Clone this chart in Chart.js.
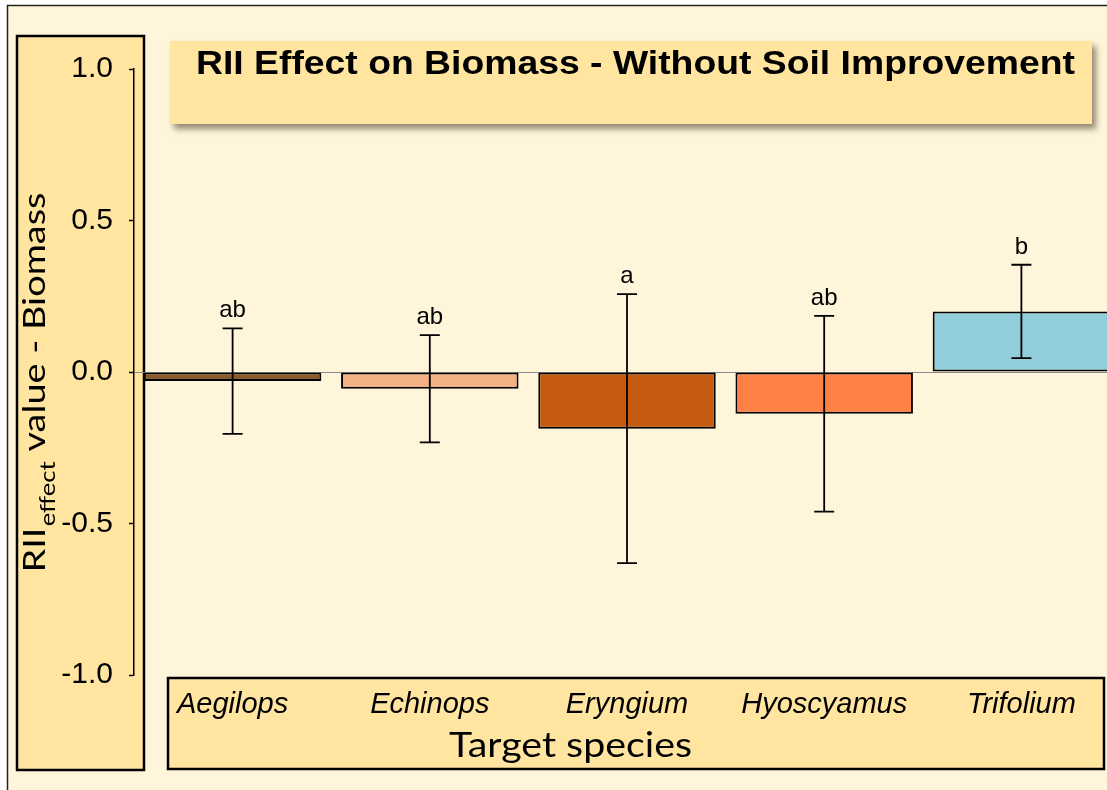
<!DOCTYPE html>
<html><head><meta charset="utf-8">
<script src="https://cdn.jsdelivr.net/npm/chart.js@4.4.0/dist/chart.umd.min.js"></script>
<style>html,body{margin:0;padding:0;overflow:hidden;background:#fff;} canvas{display:block;}</style>
</head><body>
<canvas id="c" width="1120" height="790"></canvas>
<script>
const categories = ['Aegilops', 'Echinops', 'Eryngium', 'Hyoscyamus', 'Trifolium'];
const meanRII = [-0.03, -0.055, -0.187, -0.138, 0.2];
const errRII = [0.174, 0.177, 0.444, 0.323, 0.154];
const sigLetters = ['ab', 'ab', 'a', 'ab', 'b'];
const barColors = ['#8B5A2B', '#F4B183', '#C55A11', '#FF8145', '#92CDDC'];
const yTickValues = [-1.0, -0.5, 0.0, 0.5, 1.0];
const chartTitle = 'RII Effect on Biomass - Without Soil Improvement';
const xTitle = 'Target species';
const yTitleMain = 'RII';
const yTitleSub = 'effect';
const yTitleRest = ' value - Biomass';

const BOX = '#FFE5A0';
const CREAM = '#FFF5DA';

// draw text horizontally fitted to a target width, centred at (cx, cy)
function fitText(ctx, txt, cx, cy, width) {
  const w = ctx.measureText(txt).width;
  ctx.save();
  ctx.translate(cx, cy);
  ctx.scale(width / w, 1);
  ctx.textAlign = 'center';
  ctx.fillText(txt, 0, 0);
  ctx.restore();
}

const decor = {
  id: 'decor',
  beforeDraw(chart) {
    const ctx = chart.ctx;
    ctx.save();
    ctx.fillStyle = '#fff';
    ctx.fillRect(0, 0, chart.width, chart.height);
    ctx.fillStyle = CREAM;
    ctx.fillRect(7, 5, chart.width, chart.height);
    ctx.strokeStyle = '#222';
    ctx.lineWidth = 1.5;
    ctx.beginPath();
    ctx.moveTo(7.5, chart.height + 5);
    ctx.lineTo(7.5, 5.5);
    ctx.lineTo(chart.width + 5, 5.5);
    ctx.stroke();

    // title box with shadow
    ctx.save();
    ctx.shadowColor = 'rgba(60,50,30,0.55)';
    ctx.shadowBlur = 6;
    ctx.shadowOffsetX = 4;
    ctx.shadowOffsetY = 5;
    ctx.fillStyle = BOX;
    ctx.fillRect(170, 41, 922, 83);
    ctx.restore();

    // y label box
    ctx.fillStyle = BOX;
    ctx.fillRect(17, 36, 127, 734);
    ctx.lineWidth = 2.5;
    ctx.strokeStyle = '#000';
    ctx.strokeRect(17, 36, 127, 734);

    // x label box
    ctx.fillRect(168, 678, 936, 91);
    ctx.strokeRect(168, 678, 936, 91);

    // title
    ctx.fillStyle = '#000';
    ctx.textBaseline = 'middle';
    ctx.font = 'bold 34px "Liberation Sans", Arial, sans-serif';
    fitText(ctx, chartTitle, 635.5, 65, 879);

    // x title
    ctx.font = '35px Lato, "Open Sans", sans-serif';
    fitText(ctx, xTitle, 570.5, 746, 243);

    // y title rotated with subscript, fitted to reference length
    ctx.save();
    ctx.translate(45, 382.5);
    ctx.rotate(-Math.PI / 2);
    ctx.textBaseline = 'alphabetic';
    ctx.textAlign = 'left';
    const fMain = '31px Lato, "Open Sans", sans-serif';
    const fSub = '21px Lato, "Open Sans", sans-serif';
    ctx.font = fMain;
    const w1 = ctx.measureText(yTitleMain).width;
    const w3 = ctx.measureText(yTitleRest).width;
    ctx.font = fSub;
    const w2 = ctx.measureText(yTitleSub).width;
    const total = w1 + w2 + w3 + 1;
    ctx.scale(380 / total, 1);
    let x0 = -total / 2;
    ctx.font = fMain;
    ctx.fillText(yTitleMain, x0, 0);
    ctx.font = fSub;
    ctx.fillText(yTitleSub, x0 + w1 + 1, 10);
    ctx.font = fMain;
    ctx.fillText(yTitleRest, x0 + w1 + w2 + 1, 0);
    ctx.restore();

    ctx.restore();
  },
  afterDatasetsDraw(chart) {
    const ctx = chart.ctx;
    const xs = chart.scales.x, ys = chart.scales.y;
    ctx.save();
    ctx.strokeStyle = '#000';
    ctx.lineWidth = 1.8;
    ctx.fillStyle = '#000';
    ctx.font = '24px "Liberation Sans", Arial, sans-serif';
    ctx.textAlign = 'center';
    ctx.textBaseline = 'alphabetic';
    meanRII.forEach((m, i) => {
      const x = xs.getPixelForValue(i);
      const yt = ys.getPixelForValue(m + errRII[i]);
      const yb = ys.getPixelForValue(m - errRII[i]);
      ctx.beginPath();
      ctx.moveTo(x, yt); ctx.lineTo(x, yb);
      ctx.moveTo(x - 10, yt); ctx.lineTo(x + 10, yt);
      ctx.moveTo(x - 10, yb); ctx.lineTo(x + 10, yb);
      ctx.stroke();
      ctx.fillText(sigLetters[i], x, yt - 11);
    });
    ctx.restore();
  }
};

new Chart(document.getElementById('c'), {
  type: 'bar',
  data: {
    labels: categories,
    datasets: [{
      data: meanRII,
      backgroundColor: barColors,
      borderColor: '#000',
      borderWidth: 2,
      borderSkipped: false,
      barPercentage: 0.9,
      categoryPercentage: 1.0
    }]
  },
  options: {
    responsive: false,
    animation: false,
    devicePixelRatio: 1,
    layout: { padding: { left: 0, top: 69, right: 0, bottom: 0 } },
    plugins: { legend: { display: false }, tooltip: { enabled: false }, title: { display: false } },
    scales: {
      x: {
        type: 'category',
        grid: { display: false, drawTicks: false },
        border: { display: false },
        ticks: {
          color: '#000',
          padding: 13,
          maxRotation: 0,
          autoSkip: false,
          font: { family: '"Liberation Sans", Arial, sans-serif', size: 29, style: 'italic' }
        },
        afterFit(s) { s.height = 115; }
      },
      y: {
        min: -1, max: 1,
        afterBuildTicks(s) { s.ticks = yTickValues.map(v => ({ value: v })); },
        grid: {
          drawOnChartArea: true,
          color: c => (c.tick && c.tick.value === 0) ? '#8a8a8a' : 'rgba(0,0,0,0)',
          lineWidth: 1,
          tickColor: '#000',
          tickWidth: 1.5,
          tickLength: 5
        },
        border: { display: true, color: '#000', width: 1.5 },
        ticks: {
          color: '#000',
          padding: 16,
          font: { family: '"Liberation Sans", Arial, sans-serif', size: 30 },
          callback: v => Number(v).toFixed(1)
        },
        afterFit(s) { s.width = 134; }
      }
    }
  },
  plugins: [decor]
});
</script>
</body></html>
